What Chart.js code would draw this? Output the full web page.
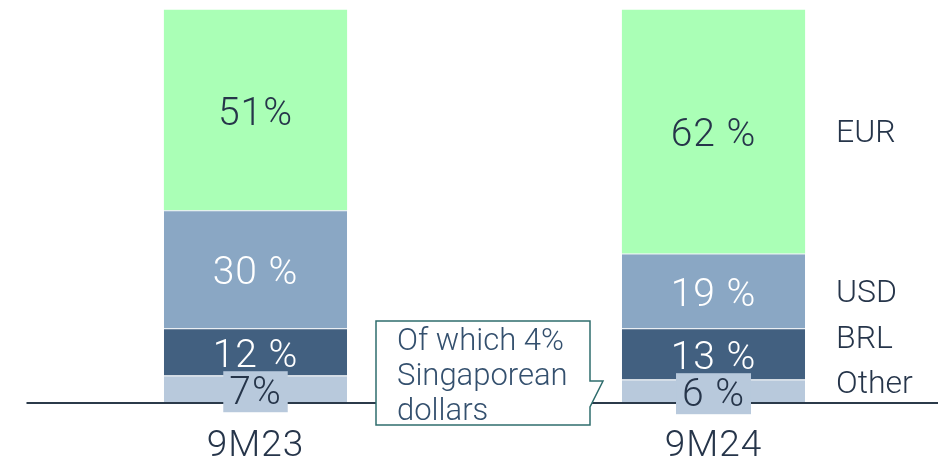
<!DOCTYPE html>
<html>
<head>
<meta charset="utf-8">
<script src="https://cdn.jsdelivr.net/npm/chart.js@4"></script>
<style>
html, body { margin: 0; padding: 0; background: #fff; overflow: hidden; }
#wrap { width: 944px; height: 460px; position: relative; }
</style>
</head>
<body>
<div id="wrap"><canvas id="fxChart"></canvas></div>
<script>
var periods = ['9M23', '9M24'];
var otherShare = [7, 6];
var brlShare = [12, 13];
var usdShare = [30, 19];
var eurShare = [51, 62];
var otherText = ['7%', '6 %'];
var brlText = ['12 %', '13 %'];
var usdText = ['30 %', '19 %'];
var eurText = ['51%', '62 %'];
var currencyNames = ['Other', 'BRL', 'USD', 'EUR'];
var calloutLines = ['Of which 4%', 'Singaporean', 'dollars'];

var darkText = '#26354a';
var fontFamily = 'Roboto, "Noto Sans", sans-serif';
var fontWeight = '300 ';

// draws segment labels, the baseline, period names, currency names and the callout
var labelPlugin = {
    id: 'labelPlugin',
    afterDatasetsDraw: function (chart) {
        var ctx = chart.ctx;
        var area = chart.chartArea;
        var xs = chart.scales.x;
        var y0 = chart.scales.y.getPixelForValue(0);
        var texts = [otherText, brlText, usdText, eurText];
        var colors = [darkText, '#ffffff', '#ffffff', darkText];

        ctx.save();
        ctx.strokeStyle = '#2b3a4a';
        ctx.lineWidth = 2;
        ctx.beginPath();
        ctx.moveTo(area.left, y0);
        ctx.lineTo(area.right, y0);
        ctx.stroke();

        ctx.textAlign = 'center';
        ctx.textBaseline = 'middle';
        ctx.font = fontWeight + '39px ' + fontFamily;
        ctx.letterSpacing = '1px';
        for (var d = 0; d < 4; d++) {
            var meta = chart.getDatasetMeta(d);
            meta.data.forEach(function (bar, i) {
                var cy = (bar.y + bar.base) / 2;
                var txt = texts[d][i];
                if (d === 0) {
                    var w = ctx.measureText(txt).width + 12;
                    ctx.fillStyle = '#b8c9dc';
                    ctx.fillRect(bar.x - w / 2, cy - 18, w, 41);
                }
                ctx.fillStyle = colors[d];
                ctx.fillText(txt, bar.x, cy + 5);
            });
        }

        // period names under the baseline
        ctx.font = fontWeight + '37px ' + fontFamily;
        ctx.fillStyle = darkText;
        periods.forEach(function (p, i) {
            ctx.fillText(p, xs.getPixelForValue(i), y0 + 44);
        });
        ctx.letterSpacing = '0px';

        // currency names next to the second bar
        var offsets = [-6, -14, 3, 3];
        ctx.textAlign = 'left';
        ctx.font = fontWeight + '32px ' + fontFamily;
        for (var k = 0; k < 4; k++) {
            var b = chart.getDatasetMeta(k).data[1];
            ctx.fillText(currencyNames[k], 836, (b.y + b.base) / 2 + offsets[k]);
        }

        // callout box
        ctx.beginPath();
        ctx.moveTo(376, 321);
        ctx.lineTo(590, 321);
        ctx.lineTo(590, 381);
        ctx.lineTo(603, 381);
        ctx.lineTo(590, 407);
        ctx.lineTo(590, 425);
        ctx.lineTo(376, 425);
        ctx.closePath();
        ctx.fillStyle = '#ffffff';
        ctx.fill();
        ctx.strokeStyle = '#2f6d6d';
        ctx.lineWidth = 1.5;
        ctx.stroke();

        ctx.font = fontWeight + '31px ' + fontFamily;
        ctx.fillStyle = '#34506e';
        ctx.textBaseline = 'alphabetic';
        calloutLines.forEach(function (line, i) {
            ctx.fillText(line, 397, 350 + i * 35);
        });
        ctx.restore();
    }
};

var segBorder = { top: 1, right: 0, bottom: 0, left: 0 };

new Chart(document.getElementById('fxChart'), {
    type: 'bar',
    data: {
        labels: periods,
        datasets: [
            { label: 'Other', data: otherShare, backgroundColor: '#b8c9dc', borderColor: '#dfe6ee', borderWidth: segBorder, borderSkipped: false },
            { label: 'BRL', data: brlShare, backgroundColor: '#426080', borderColor: '#dfe6ee', borderWidth: segBorder, borderSkipped: false },
            { label: 'USD', data: usdShare, backgroundColor: '#8aa7c4', borderColor: '#dfe6ee', borderWidth: segBorder, borderSkipped: false },
            { label: 'EUR', data: eurShare, backgroundColor: '#aaffb6', borderWidth: 0 }
        ]
    },
    options: {
        responsive: true,
        maintainAspectRatio: false,
        animation: false,
        layout: { padding: { left: 26.5, right: 1.5, top: 9.5, bottom: 57 } },
        datasets: { bar: { categoryPercentage: 1, barPercentage: 0.4 } },
        plugins: { legend: { display: false }, tooltip: { enabled: false } },
        scales: {
            x: { stacked: true, display: false },
            y: { stacked: true, display: false, min: 0, max: 100 }
        }
    },
    plugins: [labelPlugin]
});
</script>
</body>
</html>
